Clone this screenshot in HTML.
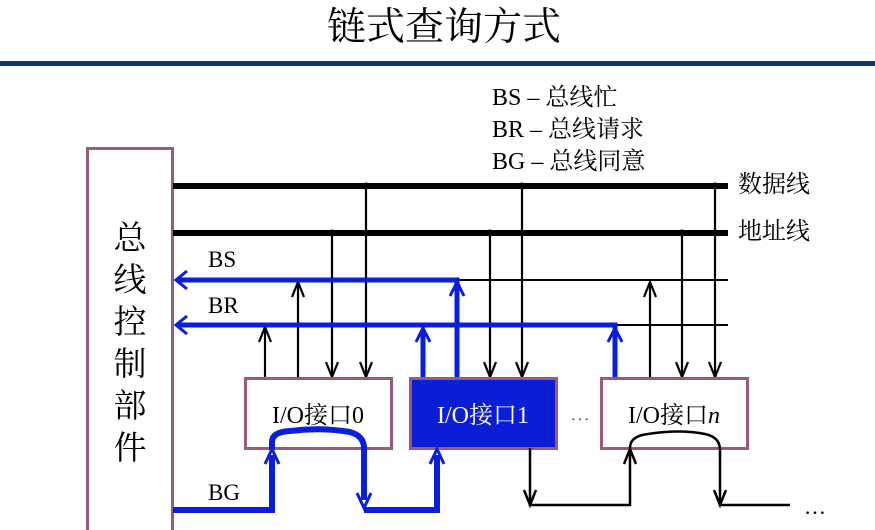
<!DOCTYPE html>
<html><head><meta charset="utf-8"><style>
html,body{margin:0;padding:0;background:#fff;width:875px;height:530px;overflow:hidden}
text{font-family:"Liberation Serif","Noto Serif CJK SC","Noto Sans CJK SC",serif}
</style></head><body>
<svg width="875" height="530" viewBox="0 0 875 530" xmlns="http://www.w3.org/2000/svg">
<text x="444" y="40" font-size="39" text-anchor="middle">链式查询方式</text>
<rect x="0" y="61" width="875" height="5" fill="#0d3a6e"/>
<text x="492" y="105" font-size="24">BS  – 总线忙</text>
<text x="492" y="137" font-size="24">BR – 总线请求</text>
<text x="492" y="169" font-size="24">BG – 总线同意</text>
<text x="738" y="192" font-size="24">数据线</text>
<text x="738" y="239" font-size="24">地址线</text>
<!-- control box -->
<rect x="87.5" y="148.5" width="85" height="390" fill="#fff" stroke="#9b5a7a" stroke-width="3"/>
<g font-size="33" text-anchor="middle">
<text x="130" y="249">总</text><text x="130" y="291">线</text><text x="130" y="333">控</text>
<text x="130" y="375">制</text><text x="130" y="417">部</text><text x="130" y="459">件</text>
</g>
<g font-size="23">
<text x="208" y="267">BS</text>
<text x="208" y="313">BR</text>
<text x="208" y="500">BG</text>
</g>
<!-- buses -->
<line x1="173" y1="186" x2="728" y2="186" stroke="#000" stroke-width="6"/>
<line x1="173" y1="233" x2="728" y2="233" stroke="#000" stroke-width="6"/>
<line x1="457" y1="280" x2="728" y2="280" stroke="#000" stroke-width="2"/>
<line x1="615" y1="325" x2="728" y2="325" stroke="#000" stroke-width="2"/>
<g fill="#000">
<circle cx="366" cy="186" r="3.5"/><circle cx="522" cy="186" r="3.5"/><circle cx="715" cy="186" r="3.5"/>
<circle cx="332" cy="233" r="3.5"/><circle cx="490" cy="233" r="3.5"/><circle cx="682" cy="233" r="3.5"/>
</g>
<g stroke="#000" stroke-width="2.2" fill="none">
<line x1="366" y1="186" x2="366" y2="376"/><line x1="522" y1="186" x2="522" y2="376"/><line x1="715" y1="186" x2="715" y2="376"/>
<line x1="332" y1="233" x2="332" y2="376"/><line x1="490" y1="233" x2="490" y2="376"/><line x1="682" y1="233" x2="682" y2="376"/>
<polyline points="360,362 366,377 372,362"/><polyline points="516,362 522,377 528,362"/><polyline points="709,362 715,377 721,362"/>
<polyline points="326,362 332,377 338,362"/><polyline points="484,362 490,377 496,362"/><polyline points="676,362 682,377 688,362"/>
<line x1="265" y1="378" x2="265" y2="327"/><polyline points="259,342 265,327 271,342"/>
<line x1="298" y1="378" x2="298" y2="282"/><polyline points="292,297 298,282 304,297"/>
<line x1="650" y1="378" x2="650" y2="282"/><polyline points="644,297 650,282 656,297"/>
</g>
<g stroke="#0a1ee0" stroke-width="5" fill="none">
<polyline points="178,280 457,280 457,378"/>
<polyline points="178,325 615,325 615,378"/>
<line x1="423" y1="378" x2="423" y2="330"/>
<polyline points="187,271 176,280 187,289" stroke-width="3"/>
<polyline points="187,316 176,325 187,334" stroke-width="3"/>
<polyline points="450,296 457,282 464,296" stroke-width="3"/>
<polyline points="416,342 423,328 430,342" stroke-width="3"/>
<polyline points="608,342 615,328 622,342" stroke-width="3"/>
</g>
<rect x="245.5" y="378.5" width="146" height="70" fill="#fff" stroke="#9b5a7a" stroke-width="3"/>
<rect x="410.5" y="378.5" width="146" height="70" fill="#0a1ed8" stroke="#9b5a7a" stroke-width="3"/>
<rect x="601.5" y="378.5" width="146" height="70" fill="#fff" stroke="#9b5a7a" stroke-width="3"/>
<g font-size="24" text-anchor="middle">
<text x="318" y="423">I/O接口0</text>
<text x="483" y="423" fill="#fff">I/O接口1</text>
<text x="674" y="423">I/O接口<tspan font-style="italic">n</tspan></text>
</g>
<text x="580" y="426" font-size="20" fill="#9b5a7a" text-anchor="middle">···</text>
<g stroke="#0a1ee0" stroke-width="6" fill="none">
<path d="M173,510 L272,510 L272,455"/>
<path d="M272,450 L272,442 Q272,432 290,431 Q320,427 350,432 Q364,436 364,448 L364,500"/>
<path d="M364,510 L437,510 L437,455"/>
<polyline points="265,464 272,449 279,464" stroke-width="3"/>
<polyline points="357,493 364,508 371,493" stroke-width="3"/>
<polyline points="430,464 437,449 444,464" stroke-width="3"/>
</g>
<g stroke="#000" stroke-width="2.5" fill="none">
<path d="M530,448 L530,505 L630,505 L630,450"/>
<polyline points="524,490 530,505 536,490"/>
<polyline points="624,464 630,449 636,464"/>
<path d="M630,448 Q630,436 648,434 Q680,429 705,434 Q720,437 720,450 L720,505 L790,505"/>
<polyline points="714,490 720,505 726,490"/>
</g>
<text x="815" y="514" font-size="22" text-anchor="middle">…</text>
</svg>
</body></html>
